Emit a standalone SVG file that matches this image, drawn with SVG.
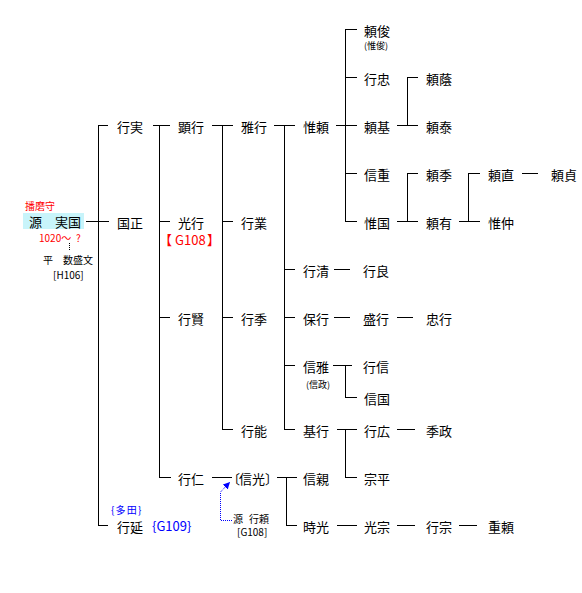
<svg xmlns="http://www.w3.org/2000/svg" width="582" height="593" viewBox="0 0 582 593">
<style>
text{font-family:"Noto Sans CJK JP","Noto Sans",sans-serif;fill:#000}
.n{font-size:13px}
.s{font-size:10px}
.xs{font-size:9px}
.red{fill:#f00}
.blue{fill:#00f}
#connectors line,#connectors polyline{stroke:#000;stroke-width:1;fill:none;shape-rendering:crispEdges}
</style>
<defs>
<marker id="ah" markerWidth="8" markerHeight="8" refX="7" refY="3.5" orient="auto" markerUnits="userSpaceOnUse">
<path d="M0,0 L7,3.5 L0,7 Z" fill="#00f"/>
</marker>
</defs>
<rect width="582" height="593" fill="#fff"/>
<g id="connectors">
<line x1="98.5" y1="125.5" x2="98.5" y2="525.5"/>
<line x1="98" y1="125.5" x2="108" y2="125.5"/>
<line x1="98" y1="525.5" x2="108" y2="525.5"/>
<line x1="86" y1="221.5" x2="109" y2="221.5"/>
<line x1="153" y1="125.5" x2="170" y2="125.5"/>
<line x1="159.5" y1="125" x2="159.5" y2="477.5"/>
<line x1="159" y1="221.5" x2="170" y2="221.5"/>
<line x1="159" y1="317.5" x2="170" y2="317.5"/>
<line x1="159" y1="477.5" x2="171" y2="477.5"/>
<line x1="212" y1="125.5" x2="233" y2="125.5"/>
<line x1="222.5" y1="125" x2="222.5" y2="429.5"/>
<line x1="222" y1="221.5" x2="233" y2="221.5"/>
<line x1="222" y1="317.5" x2="233" y2="317.5"/>
<line x1="222" y1="429.5" x2="233" y2="429.5"/>
<line x1="274" y1="125.5" x2="295" y2="125.5"/>
<line x1="284.5" y1="125" x2="284.5" y2="429.5"/>
<line x1="284" y1="269.5" x2="295" y2="269.5"/>
<line x1="284" y1="317.5" x2="295" y2="317.5"/>
<line x1="284" y1="365.5" x2="295" y2="365.5"/>
<line x1="284" y1="429.5" x2="295" y2="429.5"/>
<line x1="336" y1="125.5" x2="357" y2="125.5"/>
<line x1="345.5" y1="29.5" x2="345.5" y2="221.5"/>
<line x1="345" y1="29.5" x2="357" y2="29.5"/>
<line x1="345" y1="77.5" x2="357" y2="77.5"/>
<line x1="345" y1="173.5" x2="357" y2="173.5"/>
<line x1="345" y1="221.5" x2="357" y2="221.5"/>
<line x1="397" y1="125.5" x2="418" y2="125.5"/>
<line x1="407.5" y1="77.5" x2="407.5" y2="125.5"/>
<line x1="407" y1="77.5" x2="418" y2="77.5"/>
<line x1="397" y1="221.5" x2="418" y2="221.5"/>
<line x1="407.5" y1="173.5" x2="407.5" y2="221.5"/>
<line x1="407" y1="173.5" x2="418" y2="173.5"/>
<line x1="459" y1="221.5" x2="480" y2="221.5"/>
<line x1="468.5" y1="173.5" x2="468.5" y2="221.5"/>
<line x1="468" y1="173.5" x2="480" y2="173.5"/>
<line x1="522" y1="173.5" x2="538" y2="173.5"/>
<line x1="334" y1="269.5" x2="350" y2="269.5"/>
<line x1="334" y1="317.5" x2="350" y2="317.5"/>
<line x1="397" y1="317.5" x2="413" y2="317.5"/>
<line x1="333" y1="365.5" x2="352" y2="365.5"/>
<line x1="345.5" y1="365.5" x2="345.5" y2="397.5"/>
<line x1="345" y1="397.5" x2="357" y2="397.5"/>
<line x1="337" y1="429.5" x2="357" y2="429.5"/>
<line x1="345.5" y1="429.5" x2="345.5" y2="477.5"/>
<line x1="345" y1="477.5" x2="357" y2="477.5"/>
<line x1="397" y1="429.5" x2="415" y2="429.5"/>
<line x1="212" y1="477.5" x2="232" y2="477.5"/>
<line x1="277" y1="477.5" x2="297" y2="477.5"/>
<line x1="286.5" y1="477.5" x2="286.5" y2="525.5"/>
<line x1="286" y1="525.5" x2="297" y2="525.5"/>
<line x1="337" y1="525.5" x2="357" y2="525.5"/>
<line x1="397" y1="525.5" x2="415" y2="525.5"/>
<line x1="459" y1="525.5" x2="477" y2="525.5"/>
<path d="M232,520.5 H220.5 V492 L230,482" fill="none" stroke="#00f" stroke-width="1" stroke-dasharray="1,1" marker-end="url(#ah)"/>
<line x1="69.5" y1="243" x2="69.5" y2="250" stroke="#666" stroke-dasharray="1,1"/>
</g>
<g id="n-sanekuni">
<rect x="23" y="213" width="61" height="16" fill="#c8f4fa"/>
<text class="s red" x="25" y="210">播磨守</text>
<text class="n" x="29" y="226.5">源　実国</text>
<text class="s red" y="241.5"><tspan x="39">1020〜</tspan><tspan x="76">?</tspan></text>
<text class="s" x="43" y="264">平　数盛文</text>
<text class="s" x="53" y="279">[H106]</text>
</g>
<g id="n-yukizane"><text class="n" x="117" y="132">行実</text></g>
<g id="n-kunimasa"><text class="n" x="117" y="228">国正</text></g>
<g id="n-yukinobu"><text class="s blue" x="111" y="514" letter-spacing="1.2">{多田}</text><text class="n" x="117" y="532">行延</text><text class="n blue" x="152" y="531">{G109}</text></g>
<g id="n-akiyuki"><text class="n" x="178" y="132">顕行</text></g>
<g id="n-mitsuyuki"><text class="n" x="178" y="228">光行</text><text class="n red" y="244.5"><tspan x="159">【</tspan><tspan x="175">G108</tspan><tspan x="207">】</tspan></text></g>
<g id="n-yukikata"><text class="n" x="178" y="324">行賢</text></g>
<g id="n-yukihito"><text class="n" x="178" y="484">行仁</text></g>
<g id="n-masayuki"><text class="n" x="241" y="132">雅行</text></g>
<g id="n-yukinari"><text class="n" x="241" y="228">行業</text></g>
<g id="n-yukisue"><text class="n" x="241" y="324">行季</text></g>
<g id="n-yukiyoshi"><text class="n" x="241" y="436">行能</text></g>
<g id="n-nobumitsu"><text class="n" y="484"><tspan x="227">〔</tspan><tspan x="239">信光</tspan><tspan x="265">〕</tspan></text></g>
<g id="n-yukiyori"><text class="s" y="523"><tspan x="233">源</tspan><tspan x="249">行頼</tspan></text><text class="s" x="237" y="536">[G108]</text></g>
<g id="n-koreyori"><text class="n" x="303" y="132">惟頼</text></g>
<g id="n-yukikiyo"><text class="n" x="303" y="276">行清</text></g>
<g id="n-yasuyuki"><text class="n" x="303" y="324">保行</text></g>
<g id="n-nobumasa"><text class="n" x="303" y="372">信雅</text><text class="xs" x="306" y="388">(信政)</text></g>
<g id="n-motoyuki"><text class="n" x="303" y="436">基行</text></g>
<g id="n-nobuchika"><text class="n" x="303" y="484">信親</text></g>
<g id="n-tokimitsu"><text class="n" x="303" y="532">時光</text></g>
<g id="n-yoritoshi"><text class="n" x="364" y="36">頼俊</text><text class="xs" x="364" y="49">(惟俊)</text></g>
<g id="n-yukitada"><text class="n" x="364" y="84">行忠</text></g>
<g id="n-yorimoto"><text class="n" x="364" y="132">頼基</text></g>
<g id="n-nobushige"><text class="n" x="364" y="180">信重</text></g>
<g id="n-korekuni"><text class="n" x="364" y="228">惟国</text></g>
<g id="n-yukiyoshi2"><text class="n" x="363" y="276">行良</text></g>
<g id="n-moriyuki"><text class="n" x="363" y="324">盛行</text></g>
<g id="n-yukinobu2"><text class="n" x="363" y="372">行信</text></g>
<g id="n-nobukuni"><text class="n" x="364" y="404">信国</text></g>
<g id="n-yukihiro"><text class="n" x="364" y="436">行広</text></g>
<g id="n-munehira"><text class="n" x="364" y="484">宗平</text></g>
<g id="n-mitsumune"><text class="n" x="364" y="532">光宗</text></g>
<g id="n-yorikage"><text class="n" x="426" y="84">頼蔭</text></g>
<g id="n-yoriyasu"><text class="n" x="426" y="132">頼泰</text></g>
<g id="n-yorisue"><text class="n" x="426" y="180">頼季</text></g>
<g id="n-yoriari"><text class="n" x="426" y="228">頼有</text></g>
<g id="n-tadayuki"><text class="n" x="426" y="324">忠行</text></g>
<g id="n-suemasa"><text class="n" x="426" y="436">季政</text></g>
<g id="n-yukimune"><text class="n" x="426" y="532">行宗</text></g>
<g id="n-yorinao"><text class="n" x="488" y="180">頼直</text></g>
<g id="n-korenaka"><text class="n" x="488" y="228">惟仲</text></g>
<g id="n-shigeyori"><text class="n" x="488" y="532">重頼</text></g>
<g id="n-yorisada"><text class="n" x="551" y="180">頼貞</text></g>
</svg>
